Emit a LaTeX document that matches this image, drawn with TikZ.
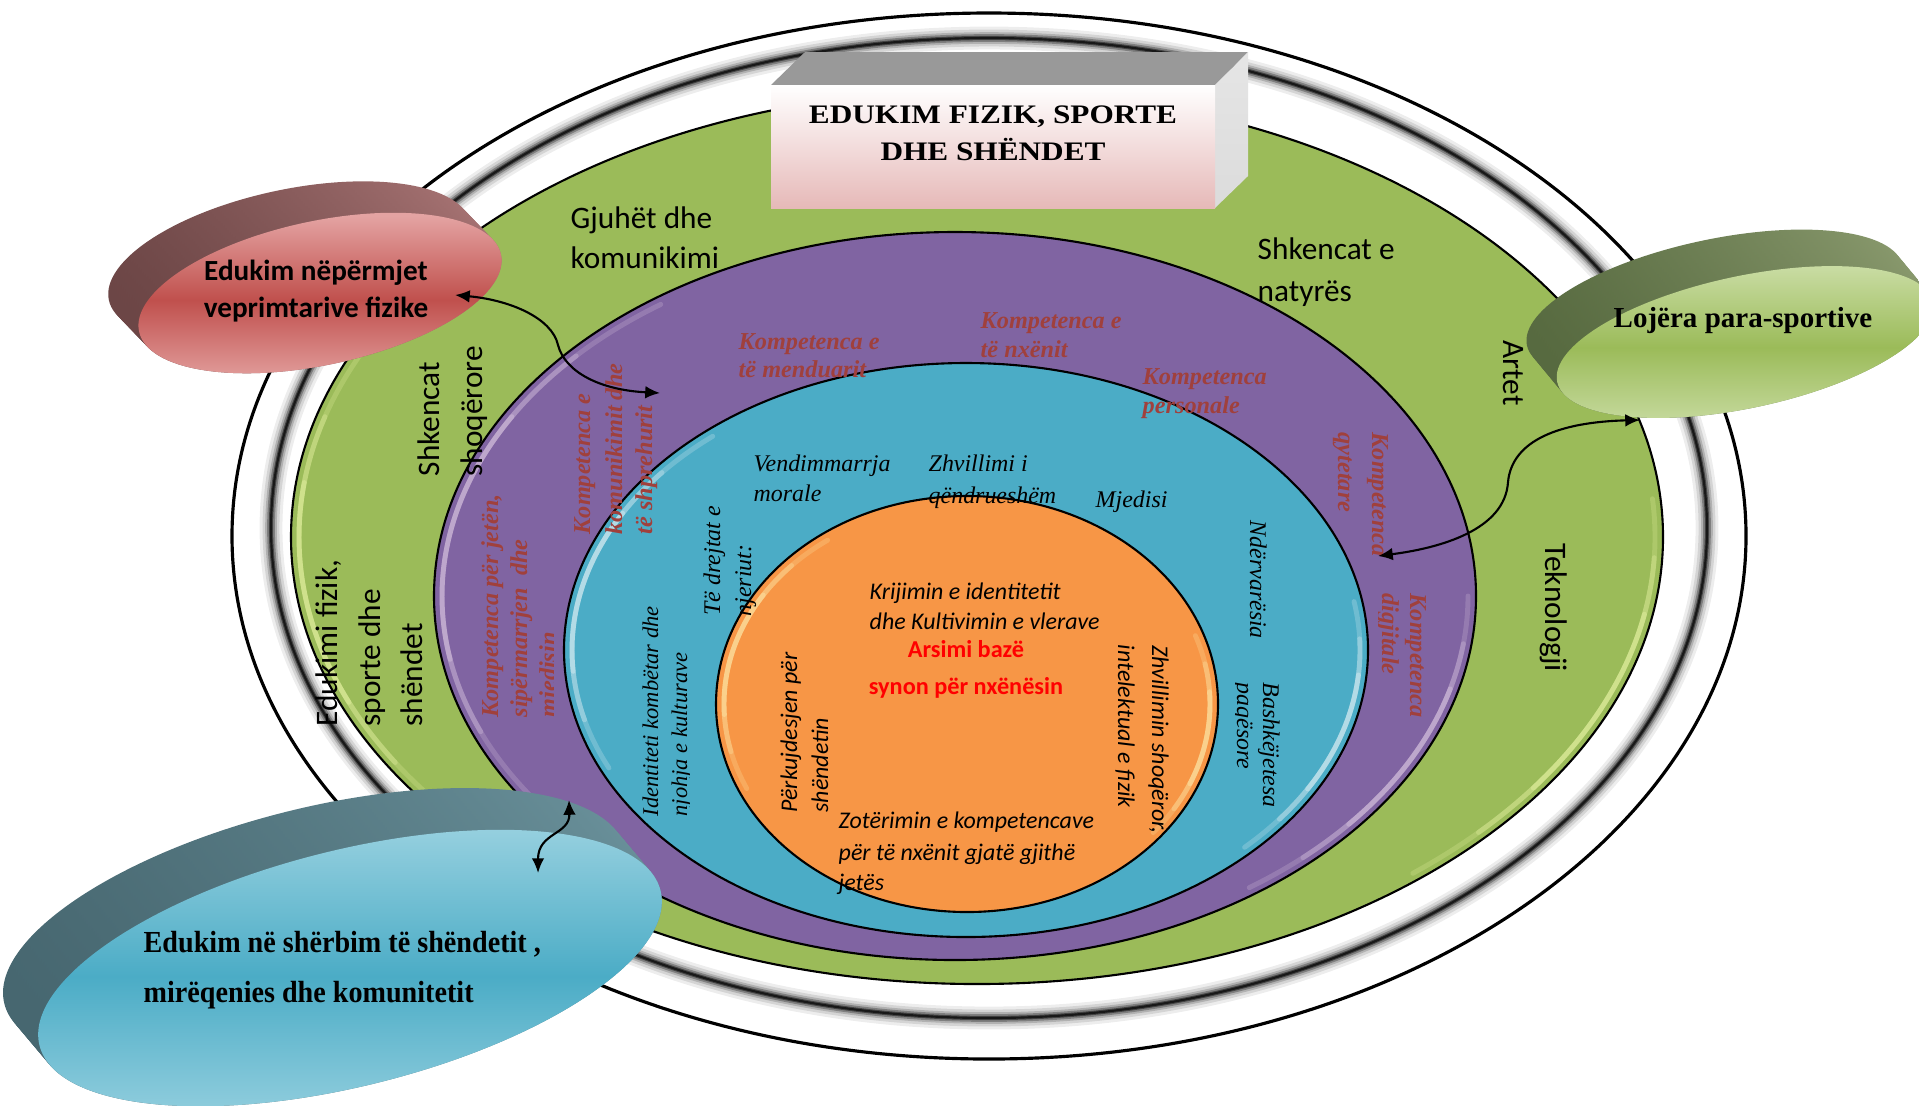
\documentclass[tikz,border=0pt]{standalone}
\usepackage{graphicx}
\usepackage{fontspec}
\setmainfont{Liberation Serif}
\newfontfamily\calfont{Carlito}
\usetikzlibrary{arrows.meta}
\definecolor{ringgreen}{HTML}{9BBB59}
\definecolor{ringpurple}{HTML}{8064A2}
\definecolor{ringblue}{HTML}{4BACC6}
\definecolor{ringorange}{HTML}{F79646}
\definecolor{kred}{HTML}{A0403C}
\definecolor{rsideL}{HTML}{6B4545}
\definecolor{rsideR}{HTML}{A87474}
\definecolor{rfrontE}{HTML}{E4A3A2}
\definecolor{rfrontM}{HTML}{C0504D}
\definecolor{gsideL}{HTML}{56693F}
\definecolor{gsideR}{HTML}{8A9A6E}
\definecolor{gfrontE}{HTML}{C9DCA3}
\definecolor{gfrontM}{HTML}{9BBB59}
\definecolor{bsideL}{HTML}{46666F}
\definecolor{bsideR}{HTML}{6A919B}
\definecolor{bfrontE}{HTML}{96D0DF}
\definecolor{bfrontM}{HTML}{4BACC6}
\definecolor{titlepink}{HTML}{E6B9B8}
\newcommand\hiarc[7]{%
  \pgfmathsetmacro\hm{(#5+#6)/2}%
  \pgfmathsetmacro\hh{(#6-#5)/2}%
  \foreach \k/\op in {1/0.2, 0.72/0.25, 0.45/0.3} {%
    \pgfmathsetmacro\ta{\hm-\k*\hh}%
    \pgfmathsetmacro\tb{\hm+\k*\hh}%
    \draw[line width=1.4pt, line cap=round, opacity=\op, draw=#7]
      ({#1+(#3)*cos(\ta)},{#2+(#4)*sin(\ta)})
      arc[start angle=\ta, end angle=\tb, x radius=#3, y radius=#4];
  }}
\begin{document}
\begin{tikzpicture}[x=0.01cm,y=-0.01cm,
  ring/.style={draw=black, line width=0.6pt},
  glbl/.style={font=\calfont\fontsize{8.9}{10}\selectfont, inner sep=0pt},
  plbl/.style={font=\bfseries\itshape\fontsize{6.9}{8}\selectfont, text=kred, inner sep=0pt},
  blbl/.style={font=\itshape\fontsize{6.8}{8}\selectfont, inner sep=0pt},
  olbl/.style={font=\calfont\itshape\fontsize{6.8}{8}\selectfont, inner sep=0pt},
  albl/.style={font=\calfont\bfseries\fontsize{6.9}{8}\selectfont, text=red, inner sep=0pt, anchor=base},
  rotup/.style={rotate=90, anchor=base west},
  rotdn/.style={rotate=-90, anchor=base west},
  hor/.style={anchor=base west},
  link/.style={draw=black, line width=0.6pt, {Latex[length=4.2pt,width=3.6pt]}-{Latex[length=4.2pt,width=3.6pt]}}
]
\path[use as bounding box] (0,0) rectangle (1919,1105);

% outer plate
\draw[fill=white, line width=0.9pt] (989,536) ellipse [x radius=757, y radius=523];
\foreach \w/\o in {6.5/0.07, 4.8/0.1, 3.3/0.16, 2.2/0.28, 1.2/0.45, 0.6/0.65} {
  \draw[black, opacity=\o, line width=\w pt] (989,528) ellipse [x radius=718, y radius=490];
}

% rings
\draw[ring, fill=ringgreen] (977,537) ellipse [x radius=686, y radius=447];
\hiarc{977}{537}{678}{439}{140}{205}{green!10!yellow!30!white}
\hiarc{977}{537}{678}{439}{-5}{50}{green!10!yellow!30!white}
\draw[ring, fill=ringpurple] (955,596) ellipse [x radius=521, y radius=364];
\hiarc{955}{596}{513}{356}{145}{235}{violet!15!white}
\hiarc{955}{596}{513}{356}{0}{55}{violet!15!white}
\draw[ring, fill=ringblue] (966,650) ellipse [x radius=402, y radius=287];
\hiarc{966}{650}{394}{279}{155}{230}{white}
\hiarc{966}{650}{394}{279}{-10}{45}{white}
\draw[ring, fill=ringorange] (967,704) ellipse [x radius=251, y radius=208];
\hiarc{967}{704}{243}{200}{155}{235}{yellow!25!white}
\hiarc{967}{704}{243}{200}{-20}{40}{yellow!25!white}

% green ring labels
\node[glbl, hor] (gA1) at (570,228) {Gjuhët dhe};
\node[glbl, hor] (gA2) at (570,268) {komunikimi};
\node[glbl, hor] (gB1) at (1257,259) {Shkencat e};
\node[glbl, hor] (gB2) at (1257,301) {natyrës};
\node[glbl, rotup] (gC1) at (439,477) {Shkencat};
\node[glbl, rotup] (gC2) at (482,477) {shoqërore};
\node[glbl, rotup] (gD1) at (337,727) {Edukimi fizik,};
\node[glbl, rotup] (gD2) at (380,727) {sporte dhe};
\node[glbl, rotup] (gD3) at (422,727) {shëndet};
\node[glbl, rotdn] (gE) at (1503,340) {Artet};
\node[glbl, rotdn] (gF) at (1545,543) {Teknologji};

% purple ring labels
\node[plbl, hor] (pA1) at (738,349) {Kompetenca e};
\node[plbl, hor] (pA2) at (738,377) {të menduarit};
\node[plbl, hor] (pB1) at (980,328) {Kompetenca e};
\node[plbl, hor] (pB2) at (980,357) {të nxënit};
\node[plbl, hor] (pC1) at (1142,384) {Kompetenca};
\node[plbl, hor] (pC2) at (1142,413) {personale};
\node[plbl, rotup] (pD1) at (590,535) {Kompetenca e};
\node[plbl, rotup] (pD2) at (622,535) {komunikimit dhe};
\node[plbl, rotup] (pD3) at (652,535) {të shprehurit};
\node[plbl, rotup] (pE1) at (498,718) {Kompetenca për jetën,};
\node[plbl, rotup] (pE2) at (527,718) {sipërmarrjen\ \ dhe};
\begin{scope}
  \clip (530,600) rectangle (553,730);
  \node[plbl, rotup] (pE3) at (556,718) {mjedisin};
\end{scope}
\node[plbl, rotdn] (pF1) at (1372,432) {Kompetenca};
\node[plbl, rotdn] (pF2) at (1338,432) {qytetare};
\node[plbl, rotdn] (pG1) at (1410,593) {Kompetenca};
\begin{scope}
  \clip (1378,580) rectangle (1410,700);
  \node[plbl, rotdn] (pG2) at (1382,593) {digjitale};
\end{scope}

% blue ring labels
\node[blbl, hor] (bA1) at (753,471) {Vendimmarrja};
\node[blbl, hor] (bA2) at (753,501) {morale};
\node[blbl, hor] (bB1) at (928,471) {Zhvillimi i};
\node[blbl, hor] (bB2) at (928,503) {qëndrueshëm};
\node[blbl, hor] (bC) at (1095,507) {Mjedisi};
\node[blbl, rotup] (bD1) at (720,616) {Të drejtat e};
\node[blbl, rotup] (bD2) at (751,617) {njeriut:};
\node[blbl, rotup, font=\itshape\fontsize{6.4}{8}\selectfont] (bE1) at (658,817) {Identiteti kombëtar dhe};
\begin{scope}
  \clip (660,600) rectangle (689,830);
  \node[blbl, rotup, font=\itshape\fontsize{6.4}{8}\selectfont] (bE2) at (687,817) {njohja e kulturave};
\end{scope}
\node[blbl, rotdn] (bF) at (1250,520) {Ndërvarësia};
\node[blbl, rotdn] (bG1) at (1263,682) {Bashkëjetesa};
\begin{scope}
  \clip (1235,670) rectangle (1262,800);
  \node[blbl, rotdn] (bG2) at (1237,682) {paqësore};
\end{scope}

% orange labels
\node[olbl, hor] (oA1) at (869,599) {Krijimin e identitetit};
\node[olbl, hor] (oA2) at (869,629) {dhe Kultivimin e vlerave};
\node[albl] (oB1) at (966,657) {Arsimi bazë};
\node[albl] (oB2) at (966,694) {synon për nxënësin};
\node[olbl, rotup] (oC1) at (797,813) {Përkujdesjen për};
\node[olbl, rotup] (oC2) at (828,813) {shëndetin};
\node[olbl, hor] (oD1) at (838,828) {Zotërimin e kompetencave};
\node[olbl, hor] (oD2) at (838,860) {për të nxënit gjatë gjithë};
\node[olbl, hor] (oD3) at (838,890) {jetës};
\node[olbl, rotdn] (oE1) at (1152,645) {Zhvillimin shoqëror,};
\node[olbl, rotdn] (oE2) at (1118,644) {intelektual e fizik};

% title box
\fill[fill=black!40] (771,85) -- (805,52) -- (1248,52) -- (1215,85) -- cycle;
\shade[top color=black!10, bottom color=black!14] (1215,85) -- (1248,52) -- (1248,176) -- (1215,208) -- cycle;
\shade[top color=white, bottom color=titlepink] (771,85) rectangle (1215,208);
\node[font=\bfseries\fontsize{7.6}{9}\selectfont, anchor=base, inner sep=0pt] (tT1) at (993,123) {\scalebox{1.17}[1]{EDUKIM FIZIK, SPORTE}};
\node[font=\bfseries\fontsize{7.6}{9}\selectfont, anchor=base, inner sep=0pt] (tT2) at (993,160) {\scalebox{1.17}[1]{DHE SHËNDET}};

% red disc
\begin{scope}[rotate around={12:(320,293)}]
  \foreach \i in {0,...,14} {
    \pgfmathsetmacro\f{\i/14}
    \shade[left color=rsideL, right color=rsideR] ({320-23+23*\f},{293-37+37*\f}) ellipse [x radius=185, y radius=72];
  }
  \shade[top color=rfrontE, bottom color=rfrontE, middle color=rfrontM] (320,293) ellipse [x radius=185, y radius=72];
\end{scope}
% green disc
\begin{scope}[rotate around={12:(1745,342)}]
  \foreach \i in {0,...,14} {
    \pgfmathsetmacro\f{\i/14}
    \shade[left color=gsideL, right color=gsideR] ({1745-22+22*\f},{342-42+42*\f}) ellipse [x radius=192, y radius=66];
  }
  \shade[top color=gfrontE, bottom color=gfrontE, middle color=gfrontM] (1745,342) ellipse [x radius=192, y radius=66];
\end{scope}
% blue disc
\begin{scope}[rotate around={14:(350,968)}]
  \foreach \i in {0,...,16} {
    \pgfmathsetmacro\f{\i/16}
    \shade[left color=bsideL, right color=bsideR] ({350-24+24*\f},{968-49+49*\f}) ellipse [x radius=320, y radius=118];
  }
  \shade[top color=bfrontE, bottom color=bfrontE, middle color=bfrontM] (350,968) ellipse [x radius=320, y radius=118];
\end{scope}

% disc labels
\node[font=\calfont\bfseries\fontsize{8.3}{10}\selectfont, anchor=base, inner sep=0pt] (dR1) at (316,280) {Edukim nëpërmjet};
\node[font=\calfont\bfseries\fontsize{8.3}{10}\selectfont, anchor=base, inner sep=0pt] (dR2) at (316,317) {veprimtarive fizike};
\node[font=\bfseries\fontsize{8.25}{10}\selectfont, anchor=base, inner sep=0pt] (dG) at (1743,327) {Lojëra para-sportive};
\node[font=\bfseries\fontsize{8.7}{10}\selectfont, anchor=base west, inner sep=0pt] (dB1) at (143,952) {\scalebox{0.92}[1]{Edukim në shërbim të shëndetit ,}};
\node[font=\bfseries\fontsize{8.7}{10}\selectfont, anchor=base west, inner sep=0pt] (dB2) at (143,1002) {\scalebox{0.92}[1]{mirëqenies dhe komunitetit}};

% connectors
\coordinate (rA) at (455,295);
\coordinate (rB) at (660,393);
\draw[link] (rA) .. controls (510,300) and (552,318) .. (558,345) .. controls (565,372) and (600,390) .. (rB);
\coordinate (gAa) at (1378,556);
\coordinate (gBb) at (1640,420);
\draw[link] (gAa) .. controls (1440,548) and (1505,530) .. (1508,482) .. controls (1512,440) and (1560,422) .. (gBb);
\coordinate (bAa) at (569,800);
\coordinate (bBb) at (538,873);
\draw[link] (bAa) .. controls (570,835) and (538,832) .. (bBb);
\end{tikzpicture}
\end{document}
